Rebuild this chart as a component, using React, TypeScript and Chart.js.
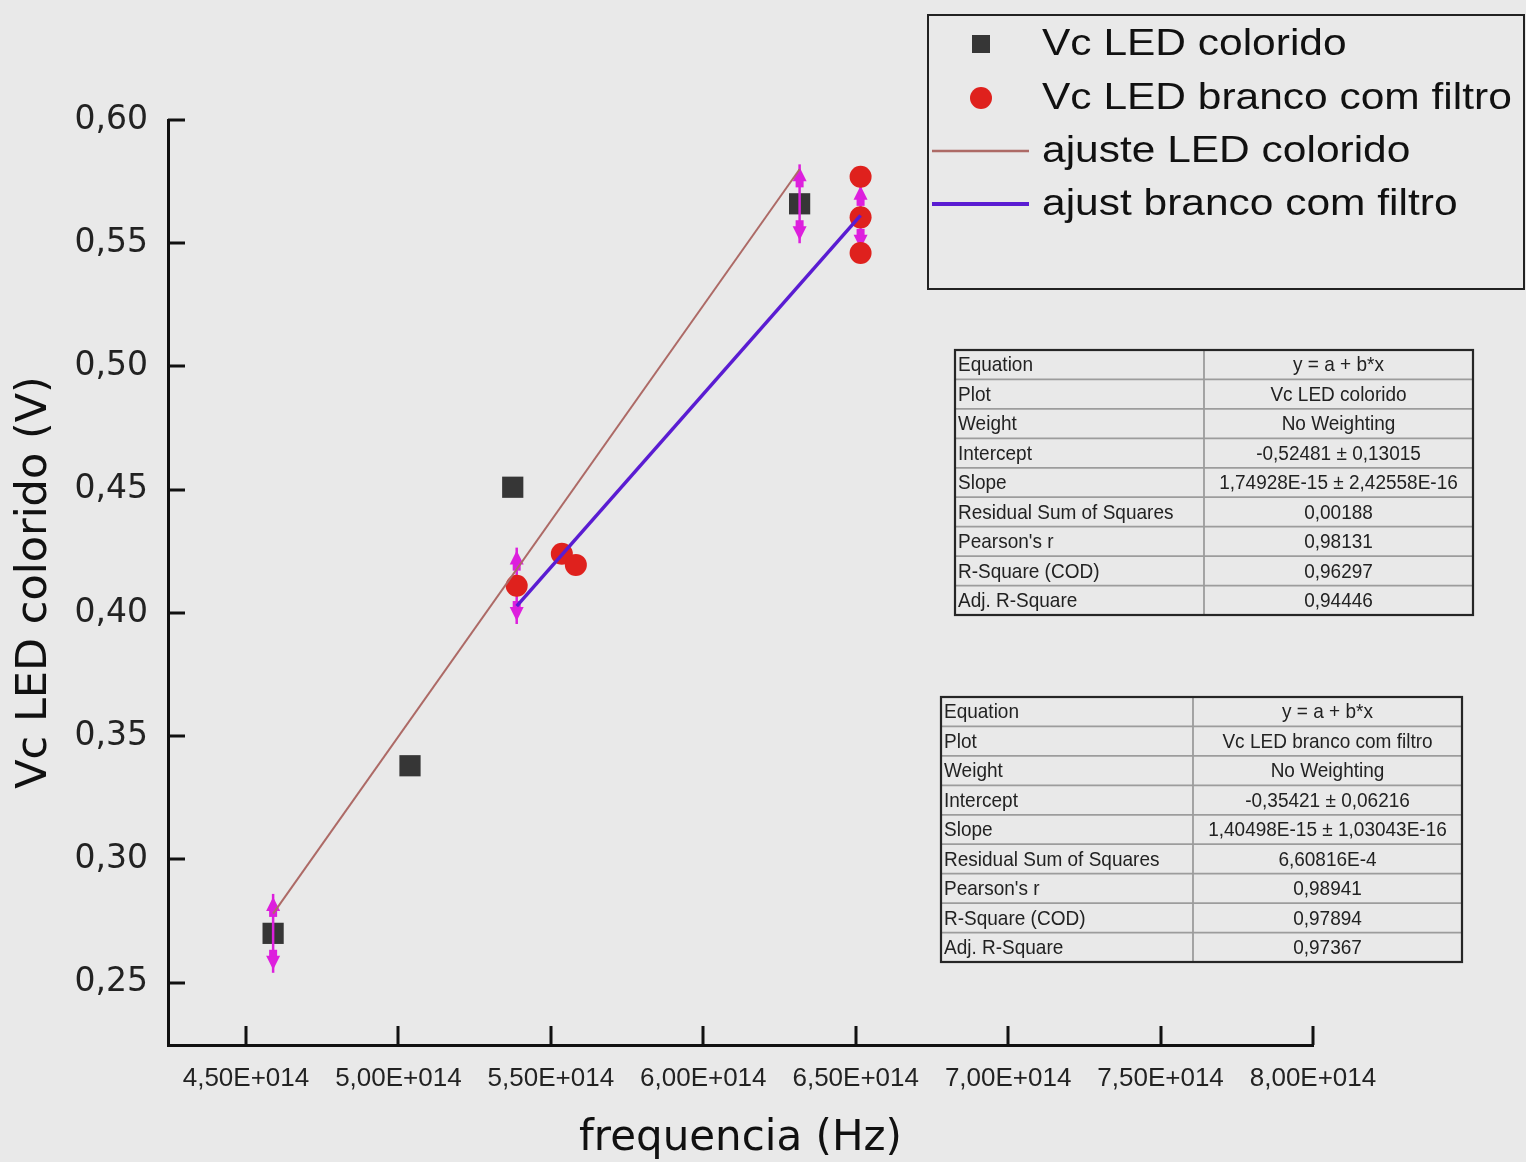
import React, { useEffect, useRef } from "react";
import { Chart, registerables } from "chart.js";

Chart.register(...registerables);

// ---- Axis ticks ----
const xTicks = [4.5e14, 5.0e14, 5.5e14, 6.0e14, 6.5e14, 7.0e14, 7.5e14, 8.0e14];
const yTicks = [0.25, 0.3, 0.35, 0.4, 0.45, 0.5, 0.55, 0.6];

// ---- Series: Vc LED colorido ----
const coloridoFreq = [4.589e14, 5.038e14, 5.375e14, 6.316e14];
const coloridoVc = [0.27, 0.338, 0.451, 0.566];
const coloridoErr = [0.016, 0, 0, 0.016];

// ---- Series: Vc LED branco com filtro ----
const brancoFreq = [5.388e14, 5.536e14, 5.582e14, 6.516e14, 6.516e14, 6.516e14];
const brancoVc = [0.411, 0.424, 0.4195, 0.577, 0.5605, 0.546];
const brancoErr = [0.0155, 0, 0, 0, 0.014, 0];

// ---- Fit lines ----
const fitColoridoFreq = [4.589e14, 6.316e14];
const fitColoridoVc = [0.278, 0.58];
const fitBrancoFreq = [5.388e14, 6.516e14];
const fitBrancoVc = [0.4028, 0.5613];

// ---- Fit tables ----
const tableLabels = [
  "Equation",
  "Plot",
  "Weight",
  "Intercept",
  "Slope",
  "Residual Sum of Squares",
  "Pearson's r",
  "R-Square (COD)",
  "Adj. R-Square",
];
const table1Values = [
  "y = a + b*x",
  "Vc LED colorido",
  "No Weighting",
  "-0,52481 ± 0,13015",
  "1,74928E-15 ± 2,42558E-16",
  "0,00188",
  "0,98131",
  "0,96297",
  "0,94446",
];
const table2Values = [
  "y = a + b*x",
  "Vc LED branco com filtro",
  "No Weighting",
  "-0,35421 ± 0,06216",
  "1,40498E-15 ± 1,03043E-16",
  "6,60816E-4",
  "0,98941",
  "0,97894",
  "0,97367",
];

const legendOrder = ["Vc LED colorido", "Vc LED branco com filtro", "ajuste LED colorido", "ajust branco com filtro"];

const MAGENTA = "#dd1fdd";

function drawErrorBars(chart: any, ds: any) {
  const errs: number[] = ds.yErr;
  if (!errs) return;
  const { ctx } = chart;
  const xs = chart.scales.x;
  const ys = chart.scales.y;
  ctx.save();
  ctx.strokeStyle = MAGENTA;
  ctx.fillStyle = MAGENTA;
  ctx.lineWidth = 2.5;
  ds.data.forEach((p: any, i: number) => {
    const e = errs[i];
    if (!e) return;
    const px = xs.getPixelForValue(p.x);
    const top = ys.getPixelForValue(p.y + e);
    const bot = ys.getPixelForValue(p.y - e);
    ctx.beginPath();
    ctx.moveTo(px, top);
    ctx.lineTo(px, bot);
    ctx.stroke();
    const ah = 17;
    const aw = 7;
    ctx.beginPath();
    ctx.moveTo(px, top + 3);
    ctx.lineTo(px - aw, top + ah);
    ctx.lineTo(px + aw, top + ah);
    ctx.closePath();
    ctx.fill();
    ctx.fillRect(px - 4, top + ah - 1, 8, 7);
    ctx.beginPath();
    ctx.moveTo(px, bot - 3);
    ctx.lineTo(px - aw, bot - ah);
    ctx.lineTo(px + aw, bot - ah);
    ctx.closePath();
    ctx.fill();
    ctx.fillRect(px - 4, bot - ah - 6, 8, 7);
  });
  ctx.restore();
}

function drawTable(ctx: CanvasRenderingContext2D, x0: number, y0: number, x1: number, y1: number, xDiv: number, labels: string[], values: string[]) {
  const n = labels.length;
  const rh = (y1 - y0) / n;
  ctx.save();
  ctx.strokeStyle = "#9c9c9c";
  ctx.lineWidth = 1.8;
  for (let i = 1; i < n; i++) {
    const y = y0 + rh * i;
    ctx.beginPath();
    ctx.moveTo(x0, y);
    ctx.lineTo(x1, y);
    ctx.stroke();
  }
  ctx.beginPath();
  ctx.moveTo(xDiv, y0);
  ctx.lineTo(xDiv, y1);
  ctx.stroke();
  ctx.strokeStyle = "#262626";
  ctx.lineWidth = 2.2;
  ctx.strokeRect(x0, y0, x1 - x0, y1 - y0);
  ctx.fillStyle = "#222";
  ctx.font = "19px 'Liberation Sans', Arial, sans-serif";
  ctx.textBaseline = "middle";
  for (let i = 0; i < n; i++) {
    const cy = y0 + rh * i + rh / 2 + 1;
    ctx.save();
    ctx.translate(0, cy);
    ctx.scale(1, 1.1);
    ctx.textAlign = "left";
    ctx.fillText(labels[i], x0 + 3, 0);
    ctx.textAlign = "center";
    ctx.fillText(values[i], (xDiv + x1) / 2, 0);
    ctx.restore();
  }
  ctx.restore();
}

const overlayPlugin = {
  id: "overlay",
  beforeDatasetDraw(chart: any, args: any) {
    const ds = chart.data.datasets[args.index];
    if (ds.yErr && !ds.errOnTop) drawErrorBars(chart, ds);
  },
  afterDatasetDraw(chart: any, args: any) {
    const ds = chart.data.datasets[args.index];
    if (ds.yErr && ds.errOnTop) drawErrorBars(chart, ds);
  },
  afterDraw(chart: any) {
    const { ctx, chartArea } = chart;
    const xs = chart.scales.x;
    const ys = chart.scales.y;
    // inward tick marks
    ctx.save();
    ctx.strokeStyle = "#111";
    ctx.lineWidth = 3;
    ys.ticks.forEach((t: any) => {
      const py = Math.round(ys.getPixelForValue(t.value));
      ctx.beginPath();
      ctx.moveTo(chartArea.left, py);
      ctx.lineTo(chartArea.left + 17, py);
      ctx.stroke();
    });
    xs.ticks.forEach((t: any) => {
      const px = Math.round(xs.getPixelForValue(t.value));
      ctx.beginPath();
      ctx.moveTo(px, chartArea.bottom);
      ctx.lineTo(px, chartArea.bottom - 19);
      ctx.stroke();
    });
    ctx.restore();

    // legend
    ctx.save();
    ctx.strokeStyle = "#222";
    ctx.lineWidth = 2;
    ctx.strokeRect(928, 15, 596, 274);
    const rowsY = [44, 98, 151, 204];
    legendOrder.forEach((label, i) => {
      const ds = chart.data.datasets.find((d: any) => d.label === label);
      const cy = rowsY[i];
      if (ds.showLine) {
        ctx.strokeStyle = ds.borderColor;
        ctx.lineWidth = ds.borderWidth + 0.5;
        ctx.beginPath();
        ctx.moveTo(932, cy);
        ctx.lineTo(1029, cy);
        ctx.stroke();
      } else if (ds.pointStyle === "rect") {
        ctx.fillStyle = ds.backgroundColor;
        ctx.fillRect(981 - 9, cy - 9, 18, 18);
      } else {
        ctx.fillStyle = ds.backgroundColor;
        ctx.beginPath();
        ctx.arc(981, cy, 11, 0, Math.PI * 2);
        ctx.fill();
      }
      ctx.save();
      ctx.translate(1042, cy + 1);
      ctx.scale(1.18, 1.04);
      ctx.fillStyle = "#111";
      ctx.font = "36px 'Liberation Sans', Arial, sans-serif";
      ctx.textBaseline = "middle";
      ctx.textAlign = "left";
      ctx.fillText(label, 0, 0);
      ctx.restore();
    });
    ctx.restore();

    drawTable(ctx, 955, 350, 1473, 615, 1204, tableLabels, table1Values);
    drawTable(ctx, 941, 697, 1462, 962, 1193, tableLabels, table2Values);
  },
};

export default function App() {
  const ref = useRef<HTMLCanvasElement>(null);
  useEffect(() => {
    const canvas = ref.current!;
    const toPts = (xs: number[], ys: number[]) => xs.map((x, i) => ({ x, y: ys[i] }));
    const chart = new Chart(canvas, {
      type: "scatter",
      data: {
        datasets: [
          {
            label: "ajuste LED colorido",
            data: toPts(fitColoridoFreq, fitColoridoVc),
            showLine: true,
            borderColor: "#ad6a66",
            backgroundColor: "#ad6a66",
            borderWidth: 2,
            pointRadius: 0,
            order: 0,
          } as any,
          {
            label: "ajust branco com filtro",
            data: toPts(fitBrancoFreq, fitBrancoVc),
            showLine: true,
            borderColor: "#5a1cd2",
            backgroundColor: "#5a1cd2",
            borderWidth: 3.5,
            pointRadius: 0,
            order: 0,
          } as any,
          {
            label: "Vc LED branco com filtro",
            data: toPts(brancoFreq, brancoVc),
            pointStyle: "circle",
            pointRadius: 11,
            backgroundColor: "#df211d",
            borderColor: "#df211d",
            borderWidth: 0,
            order: 1,
            yErr: brancoErr,
            errOnTop: false,
          } as any,
          {
            label: "Vc LED colorido",
            data: toPts(coloridoFreq, coloridoVc),
            pointStyle: "rect",
            pointRadius: 15,
            backgroundColor: "#363636",
            borderColor: "#363636",
            borderWidth: 0,
            order: 2,
            yErr: coloridoErr,
            errOnTop: true,
          } as any,
        ],
      },
      options: {
        responsive: false,
        animation: false,
        events: [],
        layout: { padding: { top: 120, right: 213, left: 0, bottom: 0 } },
        plugins: { legend: { display: false }, tooltip: { enabled: false } },
        scales: {
          x: {
            type: "linear",
            min: 4.2442e14,
            max: 8.0e14,
            afterBuildTicks: (s: any) => {
              s.ticks = xTicks.map((v) => ({ value: v }));
            },
            afterFit: (s: any) => {
              s.height = 117;
            },
            grid: { display: true, drawOnChartArea: false, drawTicks: false },
            border: { display: true, color: "#111", width: 3 },
            ticks: {
              padding: 18,
              color: "#222",
              maxRotation: 0,
              autoSkip: false,
              font: { family: "'Liberation Sans', Arial, sans-serif", size: 26 },
              callback: (v: any) => (Number(v) / 1e14).toFixed(2).replace(".", ",") + "E+014",
            },
            title: {
              display: true,
              text: "frequencia (Hz)",
              color: "#111",
              font: { family: "'DejaVu Sans', sans-serif", size: 42, lineHeight: 1.1 },
              padding: { top: 0, bottom: 0 },
            },
          },
          y: {
            type: "linear",
            min: 0.2247,
            max: 0.6,
            afterBuildTicks: (s: any) => {
              s.ticks = yTicks.map((v) => ({ value: v }));
            },
            afterFit: (s: any) => {
              s.width = 168;
            },
            grid: { display: true, drawOnChartArea: false, drawTicks: false },
            border: { display: true, color: "#111", width: 3 },
            ticks: {
              padding: 20,
              color: "#222",
              autoSkip: false,
              font: { family: "'DejaVu Sans', sans-serif", size: 33 },
              callback: (v: any) => Number(v).toFixed(2).replace(".", ","),
            },
            title: {
              display: true,
              text: "Vc LED colorido (V)",
              color: "#111",
              font: { family: "'DejaVu Sans', sans-serif", size: 43, lineHeight: 1.2 },
              padding: { top: 9, bottom: 0 },
            },
          },
        },
      },
      plugins: [overlayPlugin],
    });
    return () => chart.destroy();
  }, []);

  return (
    <div
      style={{
        position: "absolute",
        left: 0,
        top: 0,
        width: 1526,
        height: 1162,
        background: "#e9e9e9",
        overflow: "hidden",
      }}
    >
      <canvas ref={ref} width={1526} height={1162} style={{ display: "block" }} />
    </div>
  );
}
